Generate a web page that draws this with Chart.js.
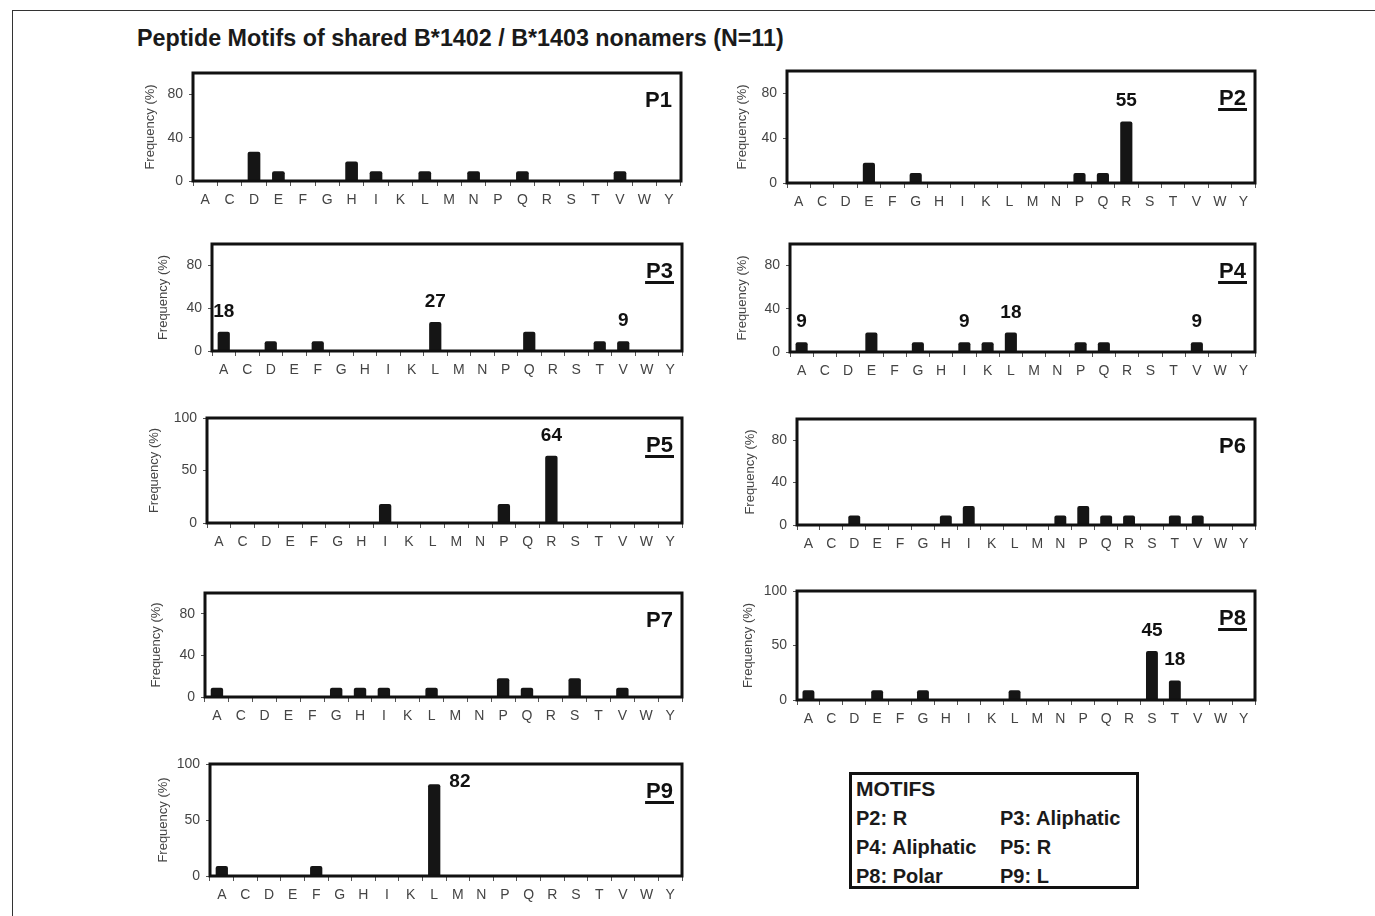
<!DOCTYPE html>
<html>
<head>
<meta charset="utf-8">
<title>Peptide Motifs</title>
<script src="https://cdn.jsdelivr.net/npm/chart.js@4.4.1/dist/chart.umd.min.js"></script>
<style>
body { margin: 0; background: #fff; font-family: "Liberation Sans", Arial, sans-serif; }
#page { position: relative; width: 1375px; height: 916px; overflow: hidden; background: #fff; }
#frame { position: absolute; left: 12px; top: 10px; width: 1400px; height: 940px; border-top: 1.5px solid #333; border-left: 1.5px solid #333; }
#titulo { position: absolute; left: 137px; top: 27px; font-size: 23.3px; line-height: 22px; font-weight: bold; color: #1a1a1a; white-space: nowrap; }
.panel { position: absolute; }
#motifs { position: absolute; left: 849px; top: 772px; width: 284px; height: 111px; border: 3px solid #111; color: #1a1a1a; font-weight: bold; }
#motifs span { position: absolute; white-space: nowrap; font-size: 20px; line-height: 20px; }
</style>
</head>
<body>
<div id="page">
  <div id="frame"></div>
  <div id="titulo">Peptide Motifs of shared B*1402 / B*1403 nonamers (N=11)</div>
  <div id="motifs">
    <span style="left:4px;top:4px;font-size:21px">MOTIFS</span>
    <span style="left:4px;top:33px">P2: R</span>
    <span style="left:148px;top:33px">P3: Aliphatic</span>
    <span style="left:4px;top:62px">P4: Aliphatic</span>
    <span style="left:148px;top:62px">P5: R</span>
    <span style="left:4px;top:91px">P8: Polar</span>
    <span style="left:148px;top:91px">P9: L</span>
  </div>
</div>
<script>
// Categorías (aminoácidos) del eje X
const aminoAcids = ['A','C','D','E','F','G','H','I','K','L','M','N','P','Q','R','S','T','V','W','Y']

// Frecuencias (%) por posición del nonámero, en el orden de aminoAcids
const p1Values = [0,0,27,9,0,0,18,9,0,9,0,9,0,9,0,0,0,9,0,0]
const p2Values = [0,0,0,18,0,9,0,0,0,0,0,0,9,9,55,0,0,0,0,0]
const p3Values = [18,0,9,0,9,0,0,0,0,27,0,0,0,18,0,0,9,9,0,0]
const p4Values = [9,0,0,18,0,9,0,9,9,18,0,0,9,9,0,0,0,9,0,0]
const p5Values = [0,0,0,0,0,0,0,18,0,0,0,0,18,0,64,0,0,0,0,0]
const p6Values = [0,0,9,0,0,0,9,18,0,0,0,9,18,9,9,0,9,9,0,0]
const p7Values = [9,0,0,0,0,9,9,9,0,9,0,0,18,9,0,18,0,9,0,0]
const p8Values = [9,0,0,9,0,9,0,0,0,9,0,0,0,0,0,45,18,0,0,0]
const p9Values = [9,0,0,0,9,0,0,0,0,82,0,0,0,0,0,0,0,0,0,0]

// Barras con el valor escrito encima
const p2Labeled = ['R']
const p3Labeled = ['A','L','V']
const p4Labeled = ['A','I','L','V']
const p5Labeled = ['R']
const p8Labeled = ['S','T']
const p9Labeled = ['L']

// Posiciones con motivo (etiqueta subrayada)
const motifPositions = ['P2','P3','P4','P5','P8','P9']

// Marcas del eje Y
const yTicks40 = [0, 40, 80]
const yTicks50 = [0, 50, 100]

const FONT = '"Liberation Sans", Arial, sans-serif'
const PAD_TOP = 10, PAD_RIGHT = 4, XAXIS_H = 34

// Cajas de los paneles: [izq, arriba, der, abajo] del área del gráfico, y x del título del eje
const paneles = [
    { name: 'P1', values: p1Values, labeled: [],        ticks: yTicks40, box: [193, 73, 681, 181],   titleX: 150 },
    { name: 'P2', values: p2Values, labeled: p2Labeled, ticks: yTicks40, box: [787, 71, 1255, 183],  titleX: 742 },
    { name: 'P3', values: p3Values, labeled: p3Labeled, ticks: yTicks40, box: [212, 244, 682, 351],  titleX: 163 },
    { name: 'P4', values: p4Values, labeled: p4Labeled, ticks: yTicks40, box: [790, 244, 1255, 352], titleX: 742 },
    { name: 'P5', values: p5Values, labeled: p5Labeled, ticks: yTicks50, box: [207, 418, 682, 523],  titleX: 154 },
    { name: 'P6', values: p6Values, labeled: [],        ticks: yTicks40, box: [797, 419, 1255, 525], titleX: 750 },
    { name: 'P7', values: p7Values, labeled: [],        ticks: yTicks40, box: [205, 593, 682, 697],  titleX: 156 },
    { name: 'P8', values: p8Values, labeled: p8Labeled, ticks: yTicks50, box: [797, 591, 1255, 700], titleX: 748 },
    { name: 'P9', values: p9Values, labeled: p9Labeled, ticks: yTicks50, box: [210, 764, 682, 876],  titleX: 163, side: 'right' }
]

// Marco grueso, nombre del panel y valores sobre las barras
const marcoPlugin = {
    id: 'marco',
    afterDatasetsDraw(chart, args, opts) {
        const { ctx, chartArea: a } = chart
        ctx.save()
        ctx.lineWidth = 3
        ctx.strokeStyle = '#111'
        ctx.strokeRect(a.left, a.top, a.right - a.left, a.bottom - a.top)

        ctx.fillStyle = '#111'
        ctx.font = 'bold 22px ' + FONT
        ctx.textAlign = 'right'
        ctx.textBaseline = 'alphabetic'
        const tx = a.right - 9, ty = a.top + 34
        ctx.fillText(opts.name, tx, ty)
        if (opts.underline) {
            const w = ctx.measureText(opts.name).width
            ctx.fillRect(tx - w - 1, ty + 3, w + 2, 3)
        }

        const meta = chart.getDatasetMeta(0)
        const data = chart.data.datasets[0].data
        ctx.font = 'bold 19px ' + FONT
        opts.labeled.forEach(cat => {
            const i = chart.data.labels.indexOf(cat)
            const bar = meta.data[i]
            if (opts.side === 'right') {
                ctx.textAlign = 'left'
                ctx.textBaseline = 'middle'
                ctx.fillText(String(data[i]), bar.x + bar.width / 2 + 9, bar.y - 2)
            } else {
                ctx.textAlign = 'center'
                ctx.textBaseline = 'alphabetic'
                ctx.fillText(String(data[i]), bar.x, bar.y - 15)
            }
        })
        ctx.restore()
    }
}

function crearPanel(p) {
    const [x0, y0, x1, y1] = p.box
    const yw = x0 - p.titleX + 7
    const left = x0 - yw
    const width = x1 + PAD_RIGHT - left
    const height = y1 - y0 + PAD_TOP + XAXIS_H

    const canvas = document.createElement('canvas')
    canvas.className = 'panel'
    canvas.width = width
    canvas.height = height
    canvas.style.left = left + 'px'
    canvas.style.top = (y0 - PAD_TOP) + 'px'
    canvas.style.width = width + 'px'
    canvas.style.height = height + 'px'
    document.getElementById('page').appendChild(canvas)

    return new Chart(canvas, {
        type: 'bar',
        data: {
            labels: aminoAcids,
            datasets: [{ data: p.values, backgroundColor: '#151515', barPercentage: 0.52, categoryPercentage: 1, borderRadius: 2, borderSkipped: 'bottom' }]
        },
        options: {
            responsive: false,
            animation: false,
            layout: { padding: { top: PAD_TOP, right: PAD_RIGHT, left: 0, bottom: 0 } },
            plugins: {
                legend: { display: false },
                tooltip: { enabled: false },
                marco: { name: p.name, underline: motifPositions.includes(p.name), labeled: p.labeled, side: p.side || 'top' }
            },
            scales: {
                x: {
                    grid: { display: true, drawOnChartArea: false, drawTicks: true, tickLength: 5, color: '#555', offset: true },
                    border: { display: false },
                    ticks: { font: { family: FONT, size: 14 }, color: '#444', padding: 6, maxRotation: 0, autoSkip: false },
                    afterFit: s => { s.height = XAXIS_H; s.paddingLeft = 0; s.paddingRight = 0 }
                },
                y: {
                    min: 0, max: 100,
                    afterBuildTicks: s => { s.ticks = p.ticks.map(v => ({ value: v })) },
                    grid: { drawOnChartArea: false, tickLength: 4, color: '#555' },
                    border: { display: false },
                    ticks: { font: { family: FONT, size: 14 }, color: '#444', padding: 6 },
                    title: { display: true, text: 'Frequency (%)', font: { family: FONT, size: 13 }, color: '#444', padding: 0 },
                    afterFit: s => { s.width = yw; s.paddingTop = 0; s.paddingBottom = 0 }
                }
            }
        },
        plugins: [marcoPlugin]
    })
}

paneles.forEach(crearPanel)
</script>
</body>
</html>
